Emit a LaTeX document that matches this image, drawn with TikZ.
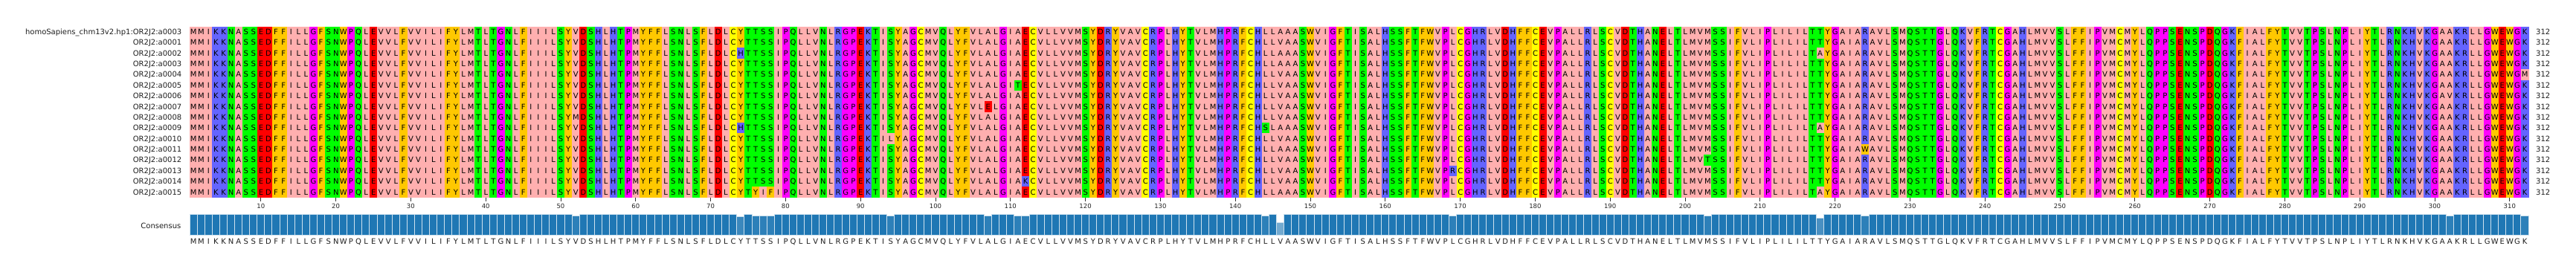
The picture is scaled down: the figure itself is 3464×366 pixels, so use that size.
\documentclass[tikz,border=0pt]{standalone}
\usepackage{fontspec}
\setmainfont{DejaVu Sans}
% Zappo colour scheme
\definecolor{zA}{HTML}{FFAFAF}\definecolor{zI}{HTML}{FFAFAF}\definecolor{zL}{HTML}{FFAFAF}
\definecolor{zM}{HTML}{FFAFAF}\definecolor{zV}{HTML}{FFAFAF}
\definecolor{zF}{HTML}{FFC800}\definecolor{zW}{HTML}{FFC800}\definecolor{zY}{HTML}{FFC800}
\definecolor{zK}{HTML}{6464FF}\definecolor{zR}{HTML}{6464FF}\definecolor{zH}{HTML}{6464FF}
\definecolor{zD}{HTML}{FF0000}\definecolor{zE}{HTML}{FF0000}
\definecolor{zS}{HTML}{00FF00}\definecolor{zT}{HTML}{00FF00}\definecolor{zN}{HTML}{00FF00}\definecolor{zQ}{HTML}{00FF00}
\definecolor{zG}{HTML}{FF00FF}\definecolor{zP}{HTML}{FF00FF}
\definecolor{zC}{HTML}{FFFF00}
\definecolor{cblue}{HTML}{1F77B4}

\def\baseseq{MMIKKNASSE DFFILLGFSN WPQLEVVLFV VILIFYLMTL TGNLFIIILS
YVDSHLHTPM YFFLSNLSFL DLCYTTSSIP QLLVNLRGPE KTISYAGCMV
QLYFVLALGI AECVLLVVMS YDRYVAVCRP LHYTVLMHPR FCHLLAAASW
VIGFTISALH SSFTFWVPLC GHRLVDHFFC EVPALLRLSC VDTHANELTL
MVMSSIFVLI PLILILTTYG AIARAVLSMQ STTGLQKVFR TCGAHLMVVS
LFFIPVMCMY LQPPSENSPD QGKFIALFYT VVTPSLNPLI YTLRNKHVKG
AAKRLLGWEW GK}

\def\setov#1#2#3{\expandafter\def\csname ov#1-#2\endcsname{#3}}
\setov{2}{146}{V}
\setov{3}{74}{H}\setov{3}{218}{A}
\setov{5}{146}{V}\setov{5}{312}{M}
\setov{6}{111}{T}\setov{6}{146}{V}
\setov{7}{146}{V}\setov{7}{302}{V}
\setov{8}{107}{E}\setov{8}{146}{V}
\setov{9}{52}{M}\setov{9}{146}{V}
\setov{10}{74}{H}\setov{10}{144}{S}\setov{10}{218}{A}
\setov{11}{94}{L}\setov{11}{146}{V}
\setov{12}{224}{W}
\setov{13}{146}{V}\setov{13}{203}{T}
\setov{14}{146}{V}\setov{14}{169}{R}
\setov{15}{112}{K}\setov{15}{146}{V}
\setov{16}{76}{Y}\setov{16}{77}{I}\setov{16}{78}{F}\setov{16}{218}{A}
\setov{c}{146}{V}

% consensus identity (out of 16)
\def\setcid#1#2{\expandafter\def\csname cid#1\endcsname{#2}}
\setcid{52}{15}\setcid{74}{14}\setcid{76}{15}\setcid{77}{15}\setcid{78}{15}
\setcid{94}{15}\setcid{107}{15}\setcid{111}{15}\setcid{112}{15}\setcid{144}{15}
\setcid{146}{10}\setcid{169}{15}\setcid{203}{15}\setcid{218}{13}\setcid{224}{15}
\setcid{302}{15}\setcid{312}{15}

\newcount\aacnt
\newdimen\colw \colw=10.08pt
\newdimen\colwo \colwo=10.48pt
\def\aacell#1{\hbox to \colw{\textcolor{z#1}{\vrule width \colwo height 10.79pt depth 3.985pt}\hskip-\colwo\hss #1\hss}}
\def\aacons#1{\hbox to \colw{\hss #1\hss}}
\def\aarow#1#2{\edef\aacurrow{#1}\let\aacellmacro#2\aacnt=0 \expandafter\aaloop\baseseq\relax}
\def\aaloop#1{%
  \ifx\relax#1\else
    \advance\aacnt by 1
    \ifcsname ov\aacurrow-\the\aacnt\endcsname
      \edef\aaletter{\csname ov\aacurrow-\the\aacnt\endcsname}%
    \else
      \def\aaletter{#1}%
    \fi
    \expandafter\aacellmacro\expandafter{\aaletter}%
    \expandafter\aaloop
  \fi}

\begin{document}
\begin{tikzpicture}[x=1pt,y=1pt,
  namelab/.style={anchor=base east, inner sep=0pt, font=\fontsize{10}{12}\selectfont, text=black!88},
  seqrow/.style={anchor=base west, inner sep=0pt, font=\fontsize{10}{12}\selectfont, text=black},
  cntlab/.style={anchor=base west, inner sep=0pt, font=\fontsize{10}{12}\selectfont, text=black!88},
  ticklab/.style={anchor=base, inner sep=0pt, font=\fontsize{8.5}{10}\selectfont, text=black!85},
  tickline/.style={draw=black!80, line width=0.8pt},
  consbar/.style={draw=cblue!22!white, line width=0.9pt},
]
\useasboundingbox (0,0) rectangle (3464,-366);
\fill[white] (0,0) rectangle (3464,-366);

\foreach \r/\nm in {1/{homoSapiens\_chm13v2.hp1:OR2J2:a0003},2/{OR2J2:a0001},3/{OR2J2:a0002},
  4/{OR2J2:a0003},5/{OR2J2:a0004},6/{OR2J2:a0005},7/{OR2J2:a0006},8/{OR2J2:a0007},
  9/{OR2J2:a0008},10/{OR2J2:a0009},11/{OR2J2:a0010},12/{OR2J2:a0011},13/{OR2J2:a0012},
  14/{OR2J2:a0013},15/{OR2J2:a0014},16/{OR2J2:a0015}}{
  \node[seqrow] (seq\r) at (255,{-(46.49+(\r-1)*14.375)}) {\aarow{\r}{\aacell}};
  \node[namelab] (name\r) at (244.5,{-(46.49+(\r-1)*14.375)}) {\nm};
  \node[cntlab] (cnt\r) at (3410,{-(46.49+(\r-1)*14.375)}) {312};
}

\foreach \t in {10,20,...,310}{
  \draw[tickline] ({255+(\t-0.5)*10.08},-266.2) -- ({255+(\t-0.5)*10.08},-270.7);
  \node[ticklab] (tick\t) at ({255+(\t-0.5)*10.08},-280) {\t};
}

\foreach \i in {1,...,312}{
  \ifcsname cid\i\endcsname \edef\bk{\csname cid\i\endcsname}\else\def\bk{16}\fi
  \pgfmathsetmacro\pct{100*\bk/16}
  \pgfmathsetmacro\bh{28.4*\bk/16}
  \filldraw[consbar, fill=cblue!\pct!white] ({255+(\i-1)*10.08},-316.7) rectangle ++(10.08,\bh);
}

\node[namelab] (conslab) at (243.5,-307.9) {Consensus};
\node[seqrow, text=black!88] (cons) at (255,-328.3) {\aarow{c}{\aacons}};
\end{tikzpicture}
\end{document}
